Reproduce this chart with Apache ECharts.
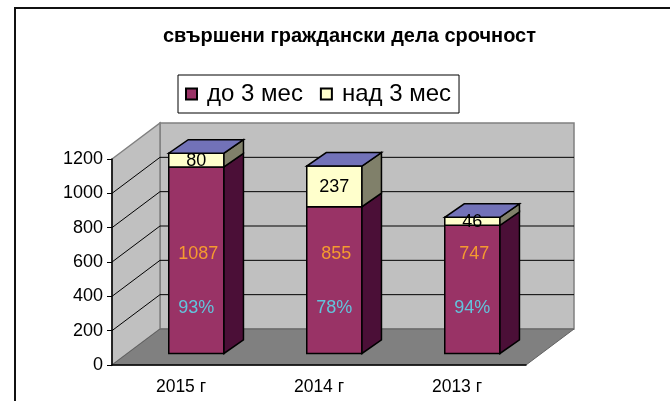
<!DOCTYPE html>
<html>
<head>
<meta charset="utf-8">
<script src="https://cdn.jsdelivr.net/npm/echarts@6/dist/echarts.min.js"></script>
<style>
  html, body { margin: 0; padding: 0; background: #fff; }
  #chart { width: 670px; height: 401px; }
</style>
</head>
<body>
<div id="chart"></div>
<script>
'use strict'
var categories = ['2015 г', '2014 г', '2013 г'];
var upTo3 = [1087, 855, 747];
var over3 = [80, 237, 46];
var yMax = 1200;
var yStep = 200;

// pseudo 3d geometry (pixels)
var DEPTH = [48, -36];
var BAR_OFF = 0.32;
var BAR_DEPTH = [19.5, -13.5];
var FONT = 'Liberation Sans, Arial, sans-serif';

function poly(points, fill, stroke, lw) {
	return {
		type: 'polygon',
		shape: { points: points },
		style: { fill: fill, stroke: stroke, lineWidth: lw }
	};
}

function renderWalls(params, api) {
	var band = api.size([1, 0])[0];
	var left = api.coord([0, 0])[0] - band / 2;
	var right = api.coord([categories.length - 1, 0])[0] + band / 2;
	var y0 = api.coord([0, 0])[1];
	var yt = api.coord([0, yMax])[1];
	var dx = DEPTH[0], dy = DEPTH[1];
	var children = [];
	children.push(poly([[left + dx, y0 + dy], [right + dx, y0 + dy], [right + dx, yt + dy], [left + dx, yt + dy]], '#c0c0c0', '#808080', 1.5));
	children.push(poly([[left, y0], [left + dx, y0 + dy], [left + dx, yt + dy], [left, yt]], '#c0c0c0', '#808080', 1.5));
	children.push(poly([[left, y0], [right, y0], [right + dx, y0 + dy], [left + dx, y0 + dy]], '#808080', '#606060', 1));
	for (var v = yStep; v < yMax; v += yStep) {
		var y = api.coord([0, v])[1];
		children.push({
			type: 'polyline',
			shape: { points: [[left, y], [left + dx, y + dy], [right + dx, y + dy]] },
			style: { stroke: '#000', lineWidth: 1, fill: null }
		});
	}
	return { type: 'group', children: children };
}

function box(api, i, lo, hi, front, side, withTop) {
	var band = api.size([1, 0])[0];
	var w = band * 0.4;
	var cx = api.coord([i, 0])[0] + DEPTH[0] * BAR_OFF;
	var yLo = api.coord([i, lo])[1] + DEPTH[1] * BAR_OFF;
	var yHi = api.coord([i, hi])[1] + DEPTH[1] * BAR_OFF;
	var x1 = cx - w / 2, x2 = cx + w / 2;
	var bx = BAR_DEPTH[0], by = BAR_DEPTH[1];
	var children = [
		poly([[x1, yHi], [x2, yHi], [x2, yLo], [x1, yLo]], front, '#000', 1.5),
		poly([[x2, yHi], [x2 + bx, yHi + by], [x2 + bx, yLo + by], [x2, yLo]], side, '#000', 1.5)
	];
	if (withTop) {
		children.push(poly([[x1, yHi], [x2, yHi], [x2 + bx, yHi + by], [x1 + bx, yHi + by]], '#7272b8', '#000', 1.5));
	}
	return { children: children, cx: cx, yLo: yLo, yHi: yHi };
}

function label(x, y, text, color) {
	return {
		type: 'text',
		z2: 10,
		style: {
			x: x, y: y, text: text, fill: color,
			fontSize: 18, fontFamily: FONT,
			align: 'center', verticalAlign: 'middle'
		}
	};
}

function renderLower(params, api) {
	var i = api.value(0), lo = api.value(1), hi = api.value(2);
	var b = box(api, i, lo, hi, '#993366', '#4b0f37', false);
	var off = DEPTH[1] * BAR_OFF;
	var total = upTo3[i] + over3[i];
	var pct = Math.round(upTo3[i] / total * 100) + '%';
	b.children.push(label(b.cx + 2, api.coord([i, 580])[1] + off, String(upTo3[i]), '#f59a30'));
	b.children.push(label(b.cx, api.coord([i, 262])[1] + off, pct, '#62c4dc'));
	return { type: 'group', children: b.children };
}

function renderUpper(params, api) {
	var i = api.value(0), lo = api.value(1), hi = api.value(2);
	var b = box(api, i, lo, hi, '#ffffcc', '#80806a', true);
	b.children.push(label(b.cx, (b.yLo + b.yHi) / 2 + 1, String(over3[i]), '#000'));
	return { type: 'group', children: b.children };
}

var chart = echarts.init(document.getElementById('chart'));
var option = {
	animation: false,
	title: {
		text: 'свършени граждански дела срочност',
		left: 158,
		top: 21,
		textStyle: { fontSize: 20, fontWeight: 'bold', color: '#000', fontFamily: FONT }
	},
	legend: {
		data: ['до 3 мес', 'над 3 мес'],
		left: 178,
		top: 75,
		padding: [7, 8, 7, 7],
		itemWidth: 11,
		itemHeight: 11,
		itemGap: 17,
		icon: 'rect',
		borderColor: '#000',
		borderWidth: 1,
		textStyle: { fontSize: 24, color: '#000', fontFamily: FONT, padding: [0, 0, 0, 5] }
	},
	graphic: [{
		type: 'rect',
		shape: { x: 15, y: 8, width: 700, height: 420 },
		style: { fill: null, stroke: '#111', lineWidth: 2 },
		silent: true
	}],
	grid: { left: 112, right: 144, top: 159, bottom: 36 },
	xAxis: {
		type: 'category',
		data: categories,
		axisLine: { lineStyle: { color: '#000', width: 1.5 } },
		axisTick: { length: 5, lineStyle: { color: '#000' } },
		axisLabel: { color: '#000', fontSize: 17.5, fontFamily: FONT, margin: 13 },
		z: 5
	},
	yAxis: {
		type: 'value',
		min: 0,
		max: yMax,
		interval: yStep,
		axisLine: { show: true, lineStyle: { color: '#000', width: 1.5 } },
		axisTick: { show: true, length: 5, lineStyle: { color: '#000' } },
		axisLabel: {
			color: '#000', fontSize: 18, fontFamily: FONT, margin: 9,
			formatter: function(v) { return String(v); }
		},
		splitLine: { show: false },
		z: 5
	},
	series: [{
		type: 'custom',
		name: 'walls',
		renderItem: renderWalls,
		data: [[0, 0]],
		silent: true,
		z: 1
	}, {
		type: 'custom',
		name: 'до 3 мес',
		renderItem: renderLower,
		itemStyle: { color: '#993366', borderColor: '#000', borderWidth: 1 },
		encode: { x: 0, y: [1, 2] },
		data: upTo3.map(function(v, i) { return [i, 0, v]; }),
		z: 2
	}, {
		type: 'custom',
		name: 'над 3 мес',
		renderItem: renderUpper,
		itemStyle: { color: '#ffffcc', borderColor: '#000', borderWidth: 1 },
		encode: { x: 0, y: [1, 2] },
		data: over3.map(function(v, i) { return [i, upTo3[i], upTo3[i] + v]; }),
		z: 2
	}]
};
chart.setOption(option);
</script>
</body>
</html>
